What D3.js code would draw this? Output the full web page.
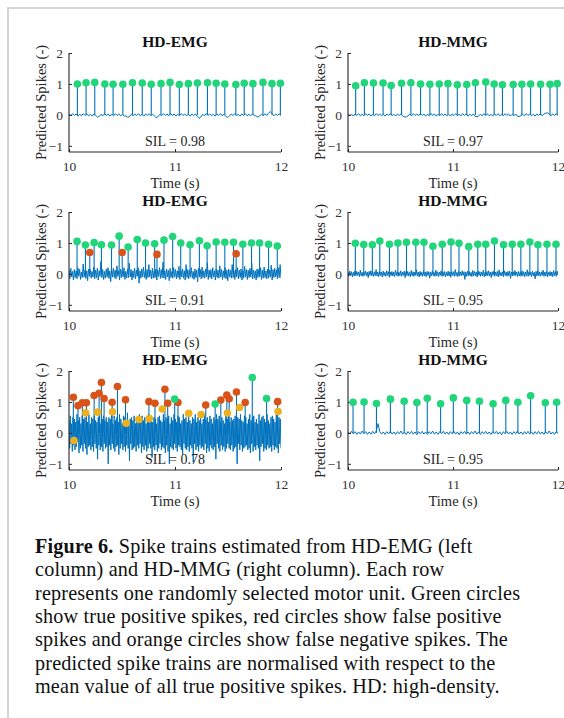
<!DOCTYPE html>
<html><head><meta charset="utf-8">
<script src="https://cdn.jsdelivr.net/npm/d3@7"></script>
<style>body{margin:0;background:#fff}svg{display:block}</style>
</head><body>
<script>
// ---------- data ----------
const titles = ["HD-EMG","HD-MMG","HD-EMG","HD-MMG","HD-EMG","HD-MMG"];
const silValues = ["0.98","0.97","0.91","0.95","0.78","0.95"];
const xTicks = [10, 11, 12];
const yTicks = [-1, 0, 1, 2];

// true positive spikes: [time, value]
const tp1 = [[10.079,1.0],[10.161,1.04],[10.243,1.05],[10.338,1.0],[10.416,0.99],[10.508,0.99],[10.599,1.04],[10.691,1.03],[10.776,0.99],[10.868,1.01],[10.953,1.05],[11.041,0.98],[11.126,1.01],[11.211,1.03],[11.306,1.04],[11.388,1.02],[11.470,1.0],[11.574,0.98],[11.653,1.02],[11.735,1.01],[11.830,1.05],[11.915,1.01],[11.994,1.02]];
const tp2 = [[10.073,0.94],[10.156,1.04],[10.242,1.03],[10.334,1.03],[10.411,0.95],[10.510,1.02],[10.599,1.04],[10.691,1.0],[10.780,0.99],[10.869,1.0],[10.952,1.01],[11.041,0.97],[11.131,0.98],[11.213,1.04],[11.312,1.06],[11.392,1.0],[11.471,0.97],[11.573,0.98],[11.656,0.99],[11.739,1.0],[11.834,0.99],[11.924,0.99],[11.992,1.01]];
const tp3 = [[10.076,1.05],[10.155,0.93],[10.237,1.01],[10.306,0.94],[10.401,0.93],[10.473,1.22],[10.558,0.87],[10.644,1.11],[10.722,1.0],[10.808,0.97],[10.896,1.09],[10.978,1.21],[11.054,1.0],[11.142,0.94],[11.230,1.07],[11.303,0.91],[11.388,1.03],[11.470,1.02],[11.552,1.02],[11.640,0.96],[11.722,1.0],[11.798,1.0],[11.883,0.96],[11.965,0.9]];
const tp4 = [[10.070,0.99],[10.150,0.95],[10.232,0.94],[10.303,1.06],[10.395,0.96],[10.475,1.0],[10.557,1.02],[10.646,1.02],[10.723,1.02],[10.809,0.89],[10.898,0.96],[10.981,1.03],[11.057,0.99],[11.150,0.88],[11.236,0.96],[11.312,0.96],[11.395,1.06],[11.481,0.94],[11.564,0.96],[11.646,0.96],[11.732,1.03],[11.809,0.94],[11.895,0.96],[11.981,0.96]];
const tp5 = [[10.997,1.09],[11.379,0.93],[11.729,1.79],[11.864,1.11]];
const tp6 = [[10.048,0.99],[10.153,1.0],[10.271,0.95],[10.404,1.09],[10.535,1.02],[10.656,0.98],[10.755,1.12],[10.882,0.94],[11.003,1.13],[11.131,1.05],[11.252,1.02],[11.382,0.94],[11.503,1.05],[11.618,0.99],[11.739,1.2],[11.879,0.97],[11.987,0.99]];

// false positive spikes
const fp1 = [], fp2 = [], fp4 = [], fp6 = [];
const fp3 = [[10.196,0.69],[10.502,0.69],[10.830,0.63],[11.577,0.65]];
const fp5 = [[10.041,1.15],[10.085,0.88],[10.126,0.97],[10.164,0.97],[10.237,1.21],[10.284,1.28],[10.306,1.63],[10.331,1.11],[10.407,0.99],[10.457,1.5],[10.533,1.07],[10.754,1.01],[10.811,0.96],[10.905,1.41],[10.931,0.96],[11.028,0.98],[11.290,0.9],[11.432,1.06],[11.489,1.22],[11.511,1.1],[11.580,1.32],[11.662,0.98],[11.968,1.01]];

// false negative spikes
const fn1 = [], fn2 = [], fn3 = [], fn4 = [], fn6 = [];
const fn5 = [[10.047,-0.25],[10.158,0.65],[10.271,0.67],[10.410,0.68],[10.539,0.31],[10.659,0.43],[10.757,0.46],[10.880,0.77],[11.129,0.63],[11.246,0.59],[11.495,0.64],[11.609,0.82],[11.972,0.69]];

// baseline signal samples (evenly spaced over 10–12 s)
const sig1 = [0.03,-0.03,0.04,-0.02,0.03,-0.04,0.02,-0.03,0.04,-0.02,
0.03,-0.03,0.02,-0.04,0.03,-0.02,-0.07,-0.05,0.02,-0.03,
0.04,-0.02,0.03,-0.04,0.02,-0.03,0.04,-0.02,0.03,-0.03,
0.02,-0.04,-0.03,-0.08,-0.05,0.02,-0.03,0.03,-0.02,0.04,
-0.03,0.02,-0.04,0.03,-0.02,0.04,-0.03,0.02,-0.04,-0.09,
-0.06,0.02,-0.03,0.04,-0.02,0.03,-0.03,0.05,-0.02,0.03,
-0.04,0.02,-0.03,0.04,-0.02,0.03,-0.03,0.02,-0.04,0.03,
-0.02,0.03,-0.05,-0.11,-0.07,0.02,-0.03,0.04,-0.02,0.03,
-0.03,0.02,-0.04,0.03,-0.02,0.04,-0.03,0.02,-0.05,-0.08,
-0.04,0.03,-0.02,0.04,-0.03,0.02,-0.04,0.03,-0.02,0.04,
-0.03,0.02,-0.03,0.03,-0.02,-0.04,-0.07,-0.03,0.02,-0.03,
0.04,-0.02,0.05,0.11,0.04,-0.03,0.03,-0.02,0.03,-0.02];
const sig2 = [0.03,-0.03,0.02,-0.04,0.03,-0.02,0.04,-0.03,0.02,-0.03,
0.04,-0.02,0.03,-0.04,0.02,-0.03,0.04,-0.02,0.03,-0.03,
0.02,-0.04,0.03,-0.02,0.04,-0.03,0.02,-0.04,0.03,-0.02,
0.03,-0.04,-0.06,-0.07,-0.03,0.02,-0.03,0.04,-0.02,0.03,
-0.03,0.04,-0.02,0.03,-0.04,0.02,-0.03,0.05,-0.02,0.03,
-0.04,0.02,-0.03,0.04,-0.02,0.03,-0.03,0.02,-0.04,0.03,
-0.02,0.04,-0.03,0.02,-0.03,0.04,-0.02,0.03,-0.04,0.02,
-0.03,0.03,-0.05,-0.06,-0.04,0.02,-0.03,0.04,-0.02,0.03,
-0.03,0.02,-0.04,0.03,-0.02,0.04,-0.03,0.02,-0.03,0.04,
-0.02,0.03,-0.04,0.02,-0.03,0.03,-0.05,-0.05,-0.03,0.02,
-0.03,0.04,-0.02,0.03,-0.03,0.02,-0.04,0.03,-0.02,0.04,
-0.03,0.03,0.05,0.07,0.02,-0.03,0.03,-0.02,0.04,-0.03];
const sig3 = [0.12,-0.15,0.18,-0.1,0.08,-0.2,0.14,-0.12,0.1,-0.16,
0.2,-0.08,0.15,-0.18,0.06,-0.12,0.32,-0.1,0.12,-0.15,
0.1,-0.22,0.16,-0.08,0.14,-0.14,0.08,-0.1,0.22,-0.16,
0.12,-0.12,0.18,-0.2,0.1,-0.08,0.4,-0.12,0.14,-0.18,
0.08,-0.14,0.16,-0.1,0.2,-0.15,0.1,-0.25,0.14,-0.1,
0.18,-0.12,0.12,-0.16,0.26,-0.08,0.1,-0.2,0.15,-0.12,
0.12,-0.1,0.2,-0.18,0.08,-0.14,0.16,-0.12,0.34,-0.1,
0.14,-0.2,0.1,-0.12,0.18,-0.16,0.12,-0.08,0.2,-0.3,
0.1,-0.14,0.16,-0.1,0.22,-0.12,0.08,-0.18,0.14,-0.12,
0.3,-0.1,0.12,-0.16,0.18,-0.14,0.1,-0.12,0.16,-0.2,
0.12,-0.08,0.2,-0.15,0.14,-0.12,0.38,-0.14,0.1,-0.18,
0.16,-0.1,0.12,-0.22,0.18,-0.12,0.08,-0.14,0.2,-0.1,
0.14,-0.16,0.1,-0.12,0.24,-0.18,0.12,-0.1,0.16,-0.14,
0.1,-0.2,0.3,-0.12,0.14,-0.16,0.12,-0.1,0.2,-0.14,
0.08,-0.18,0.16,-0.12,0.12,-0.26,0.18,-0.1,0.14,-0.16,
0.22,-0.12,0.1,-0.14,0.16,-0.1,0.36,-0.18,0.12,-0.12,
0.14,-0.16,0.2,-0.1,0.1,-0.2,0.16,-0.12,0.12,-0.14,
0.26,-0.1,0.14,-0.18,0.1,-0.12,0.2,-0.16,0.12,-0.22,
0.16,-0.1,0.12,-0.14,0.3,-0.12,0.1,-0.18,0.14,-0.1,
0.2,-0.16,0.12,-0.12,0.16,-0.2,0.1,-0.14,0.24,-0.1,
0.14,-0.18,0.12,-0.12,0.18,-0.1,0.34,-0.16,0.12,-0.14,
0.1,-0.2,0.16,-0.12,0.14,-0.1,0.2,-0.18,0.12,-0.14,
0.22,-0.12,0.1,-0.16,0.16,-0.14,0.12,-0.1,0.28,-0.2,
0.14,-0.12,0.18,-0.1,0.12,-0.16,0.2,-0.12,0.3,-0.14];
const sig4 = [0.06,-0.08,0.09,-0.05,0.07,-0.1,0.05,-0.07,0.1,-0.06,
0.08,-0.05,0.06,-0.09,0.12,-0.06,0.05,-0.08,0.07,-0.05,
0.09,-0.07,0.06,-0.12,0.08,-0.05,0.1,-0.06,0.05,-0.08,
0.07,-0.06,0.14,-0.07,0.06,-0.09,0.08,-0.05,0.06,-0.1,
0.09,-0.06,0.05,-0.08,0.1,-0.05,0.07,-0.11,0.06,-0.06,
0.08,-0.07,0.06,-0.09,0.12,-0.05,0.07,-0.08,0.05,-0.06,
0.1,-0.08,0.06,-0.05,0.09,-0.12,0.07,-0.06,0.08,-0.07,
0.05,-0.09,0.11,-0.06,0.07,-0.08,0.06,-0.05,0.13,-0.07,
0.06,-0.1,0.08,-0.06,0.05,-0.08,0.1,-0.07,0.06,-0.09,
0.08,-0.05,0.07,-0.14,0.06,-0.07,0.09,-0.06,0.05,-0.08,
0.12,-0.06,0.07,-0.09,0.06,-0.05,0.1,-0.08,0.06,-0.07,
0.08,-0.1,0.05,-0.06,0.09,-0.07,0.06,-0.11,0.08,-0.05,
0.07,-0.08,0.14,-0.06,0.05,-0.09,0.08,-0.07,0.06,-0.06,
0.1,-0.05,0.07,-0.18,0.06,-0.08,0.09,-0.06,0.07,-0.07,
0.05,-0.09,0.11,-0.06,0.08,-0.07,0.06,-0.1,0.09,-0.05,
0.07,-0.08,0.06,-0.06,0.12,-0.09,0.05,-0.07,0.08,-0.06,
0.1,-0.07,0.06,-0.12,0.07,-0.05,0.09,-0.08,0.06,-0.06,
0.08,-0.1,0.13,-0.06,0.05,-0.07,0.07,-0.09,0.1,-0.05,
0.06,-0.08,0.08,-0.06,0.09,-0.15,0.06,-0.07,0.07,-0.06,
0.11,-0.05,0.06,-0.09,0.08,-0.07,0.05,-0.08,0.1,-0.06,
0.07,-0.1,0.06,-0.06,0.13,-0.08,0.07,-0.05,0.06,-0.09,
0.09,-0.06,0.05,-0.16,0.08,-0.07,0.1,-0.06,0.06,-0.08,
0.07,-0.05,0.12,-0.08,0.06,-0.07,0.09,-0.1,0.05,-0.06,
0.08,-0.07,0.06,-0.09,0.11,-0.06,0.07,-0.08,0.09,-0.05];
const sig5 = [0.4,-0.5,0.55,-0.35,0.3,-0.6,0.5,-0.4,0.45,-0.55,
0.35,-0.45,0.6,-0.3,0.4,-0.65,0.5,-0.5,0.3,-0.4,
0.55,-0.6,0.45,-0.35,0.5,-0.5,0.4,-0.7,0.35,-0.45,
0.6,-0.4,0.3,-0.55,0.5,-0.45,0.45,-0.6,0.55,-0.35,
0.4,-0.5,0.35,-0.85,0.5,-0.4,0.6,-0.55,0.3,-0.45,
0.45,-0.6,0.55,-0.35,0.4,-0.5,0.5,-0.45,0.35,-1.0,
0.5,-0.4,0.45,-0.55,0.6,-0.35,0.3,-0.5,0.55,-0.6,
0.4,-0.45,0.5,-0.4,0.35,-0.7,0.6,-0.5,0.45,-0.35,
0.3,-0.55,0.55,-0.45,0.5,-0.6,0.4,-0.4,0.65,-0.5,
0.35,-0.9,0.45,-0.35,0.5,-0.55,0.4,-0.5,0.55,-0.45,
0.3,-0.6,0.5,-0.4,0.45,-0.5,0.6,-0.35,0.35,-0.65,
0.55,-0.45,0.4,-0.55,0.5,-0.4,0.3,-0.6,0.45,-0.5,
0.6,-0.35,0.4,-0.5,0.55,-0.8,0.35,-0.45,0.5,-0.55,
0.45,-0.4,0.3,-0.6,0.5,-0.5,0.55,-0.35,0.4,-0.55,
0.35,-0.45,0.6,-0.5,0.4,-0.65,0.5,-0.4,0.45,-0.6,
0.55,-1.0,0.3,-0.45,0.5,-0.5,0.4,-0.55,0.6,-0.35,
0.45,-0.5,0.35,-0.6,0.55,-0.4,0.5,-0.45,0.3,-0.55,
0.4,-0.7,0.6,-0.35,0.45,-0.5,0.5,-0.55,0.35,-0.45,
0.55,-0.6,0.4,-0.4,0.3,-0.5,0.5,-0.95,0.45,-0.35,
0.6,-0.55,0.35,-0.45,0.5,-0.6,0.4,-0.4,0.55,-0.5,
0.3,-0.45,0.45,-0.55,0.6,-0.35,0.4,-0.65,0.5,-0.5,
0.35,-0.6,0.55,-0.4,0.45,-0.5,0.3,-0.55,0.5,-0.45,
0.4,-0.85,0.6,-0.35,0.45,-0.5,0.55,-0.6,0.35,-0.4,
0.5,-0.55,0.4,-0.45,0.3,-0.6,0.55,-0.5,0.45,-0.35,
0.6,-0.5,0.35,-0.55,0.5,-0.4,0.4,-0.6,0.45,-0.5,
0.55,-0.45,0.3,-1.0,0.5,-0.35,0.45,-0.55,0.6,-0.4,
0.4,-0.6,0.35,-0.5,0.55,-0.45,0.5,-0.4,0.3,-0.55,
0.45,-0.5,0.6,-0.65,0.4,-0.35,0.5,-0.6,0.55,-0.45,
0.35,-0.55,0.45,-0.4,0.3,-0.5,0.6,-0.9,0.4,-0.45,
0.5,-0.35,0.55,-0.6,0.45,-0.5,0.35,-0.55,0.6,-0.4,
0.4,-0.5,0.3,-0.45,0.5,-0.6,0.55,-0.4,0.45,-0.55,
0.35,-0.45,0.6,-0.5,0.4,-0.65,0.5,-0.35,0.45,-0.5];
const sig6 = [0.04,-0.04,0.05,-0.03,0.04,-0.05,0.03,-0.04,0.06,-0.03,
0.04,-0.05,0.03,-0.04,0.05,-0.03,0.06,0.3,0.04,-0.04,
0.03,-0.05,0.04,-0.03,0.05,-0.04,0.03,-0.05,0.04,-0.03,
0.06,-0.04,0.03,-0.05,0.04,-0.03,0.05,-0.04,0.03,-0.06,
0.04,-0.03,0.05,-0.04,0.03,-0.05,0.04,-0.03,0.06,-0.04,
0.03,-0.05,0.04,-0.03,0.05,-0.04,0.03,-0.05,0.04,-0.03,
0.05,-0.04,0.03,-0.06,0.04,-0.03,0.05,-0.04,0.03,-0.05,
0.04,-0.03,0.06,-0.04,0.03,-0.05,0.04,-0.03,0.05,-0.04,
0.03,-0.05,0.04,-0.03,0.05,-0.04,0.03,-0.06,0.04,-0.03,
0.05,-0.04,0.03,-0.05,0.04,-0.03,0.06,-0.04,0.03,-0.05,
0.04,-0.03,0.05,-0.04,0.03,-0.05,0.04,-0.03,0.05,-0.04,
0.03,-0.05,0.04,-0.03,0.06,-0.04,0.03,-0.05,0.04,-0.03];

const captionLines = [
  ["Figure 6.", " Spike trains estimated from HD-EMG (left"],
  ["", "column) and HD-MMG (right column). Each row"],
  ["", "represents one randomly selected motor unit. Green circles"],
  ["", "show true positive spikes, red circles show false positive"],
  ["", "spikes and orange circles show false negative spikes. The"],
  ["", "predicted spike trains are normalised with respect to the"],
  ["", "mean value of all true positive spikes. HD: high-density."]
];

// ---------- drawing ----------
const panels = [
  {sig:sig1,tp:tp1,fp:fp1,fn:fn1},{sig:sig2,tp:tp2,fp:fp2,fn:fn2},
  {sig:sig3,tp:tp3,fp:fp3,fn:fn3},{sig:sig4,tp:tp4,fp:fp4,fn:fn4},
  {sig:sig5,tp:tp5,fp:fp5,fn:fn5},{sig:sig6,tp:tp6,fp:fp6,fn:fn6}
];
const BLUE = "#0072BD", GREEN = "#21D57A", RED = "#D95319", ORANGE = "#EDB120", AX = "#262626";
const SERIF = "'Liberation Serif','DejaVu Serif',serif";
const colX = [[69,281],[348,558]];
const rowTop = [53,212,371];
const PH = 99;

const svg = d3.select("body").append("svg").attr("width",564).attr("height",718);
svg.append("rect").attr("width",564).attr("height",718).attr("fill","#fff");
svg.append("path").attr("d","M8,718V8H564").attr("fill","none").attr("stroke","#d4d4d4").attr("stroke-width",2);

panels.forEach((p,i)=>{
  const c = i%2, r = Math.floor(i/2);
  const [x0,x1] = colX[c];
  const top = rowTop[r], bot = top+PH;
  const x = d3.scaleLinear().domain([10,12]).range([x0,x1]);
  const y = d3.scaleLinear().domain([-1.2,2]).range([bot,top]);
  const g = svg.append("g");
  const clipId = "clip"+i;
  g.append("clipPath").attr("id",clipId).append("rect").attr("x",x0).attr("y",top-10).attr("width",x1-x0).attr("height",PH+10);

  const n = p.sig.length;
  const tr = p.sig.map((v,k)=>[10+2*k/(n-1), v]);
  g.append("path").datum(tr).attr("clip-path",`url(#${clipId})`)
    .attr("d",d3.line().x(d=>x(d[0])).y(d=>y(d[1])))
    .attr("fill","none").attr("stroke",BLUE).attr("stroke-width",1);

  const stems = p.tp.concat(p.fp);
  g.selectAll(".stem").data(stems).join("line")
    .attr("x1",d=>x(d[0])).attr("x2",d=>x(d[0]))
    .attr("y1",y(0)).attr("y2",d=>y(d[1]))
    .attr("stroke",BLUE).attr("stroke-width",1.1);

  // axes
  const ya = d3.axisLeft(y).tickValues(yTicks).tickSize(-3).tickPadding(6).tickFormat(d3.format("d"));
  const xa = d3.axisBottom(x).tickValues(xTicks).tickSize(-3).tickPadding(9).tickFormat(d3.format("d"));
  const gy = g.append("g").attr("transform",`translate(${x0},0)`).call(ya);
  const gx = g.append("g").attr("transform",`translate(0,${bot})`).call(xa);
  [gx,gy].forEach(a=>{
    a.select(".domain").attr("stroke",AX).attr("stroke-width",1.1);
    a.selectAll(".tick line").attr("stroke",AX);
    a.selectAll(".tick text").attr("font-family",SERIF).attr("font-size",13.5).attr("fill","#333");
  });
  gy.select(".domain").attr("d",`M0,${bot}V${top}`);
  gx.select(".domain").attr("d",`M${x0},0H${x1}`);

  // circles
  g.selectAll(".fn").data(p.fn).join("circle").attr("cx",d=>x(d[0])).attr("cy",d=>y(d[1])).attr("r",3.8).attr("fill",ORANGE);
  g.selectAll(".fp").data(p.fp).join("circle").attr("cx",d=>x(d[0])).attr("cy",d=>y(d[1])).attr("r",3.8).attr("fill",RED);
  g.selectAll(".tp").data(p.tp).join("circle").attr("cx",d=>x(d[0])).attr("cy",d=>y(d[1])).attr("r",3.8).attr("fill",GREEN);

  // texts
  const cx = (x0+x1)/2;
  g.append("text").attr("x",cx).attr("y",top-6).attr("text-anchor","middle")
    .attr("font-family",SERIF).attr("font-weight","bold").attr("font-size",15.5).attr("fill","#111").text(titles[i]);
  g.append("text").attr("x",cx).attr("y",bot-6).attr("text-anchor","middle")
    .attr("font-family",SERIF).attr("font-size",14).attr("fill",AX).text("SIL = "+silValues[i]);
  g.append("text").attr("x",cx).attr("y",bot+36).attr("text-anchor","middle")
    .attr("font-family",SERIF).attr("font-size",14.5).attr("fill",AX).text("Time (s)");
  g.append("text").attr("transform",`translate(${x0-28},${(top+bot)/2}) rotate(-90)`)
    .attr("text-anchor","middle").attr("dy","0.35em")
    .attr("font-family",SERIF).attr("font-size",14.5).attr("fill",AX).text("Predicted Spikes (-)");
});

// caption
const cap = svg.append("g");
const capTexts = captionLines.map((ln,k)=>{
  const t = cap.append("text").attr("x",35).attr("y",553+k*23.3)
    .attr("font-family",SERIF).attr("font-size",20.2).attr("fill","#111");
  if (ln[0]) t.append("tspan").attr("font-weight","bold").text(ln[0]);
  t.append("tspan").text(ln[1]);
  return t;
});
// fit longest line to the reference's measure (~485 px)
const ref = capTexts[2];
const w = ref.node().getComputedTextLength();
const nch = captionLines[2][1].length;
const ls = (485 - w)/(nch-1);
capTexts.forEach(t=>t.attr("letter-spacing",ls));
</script>
</body></html>
